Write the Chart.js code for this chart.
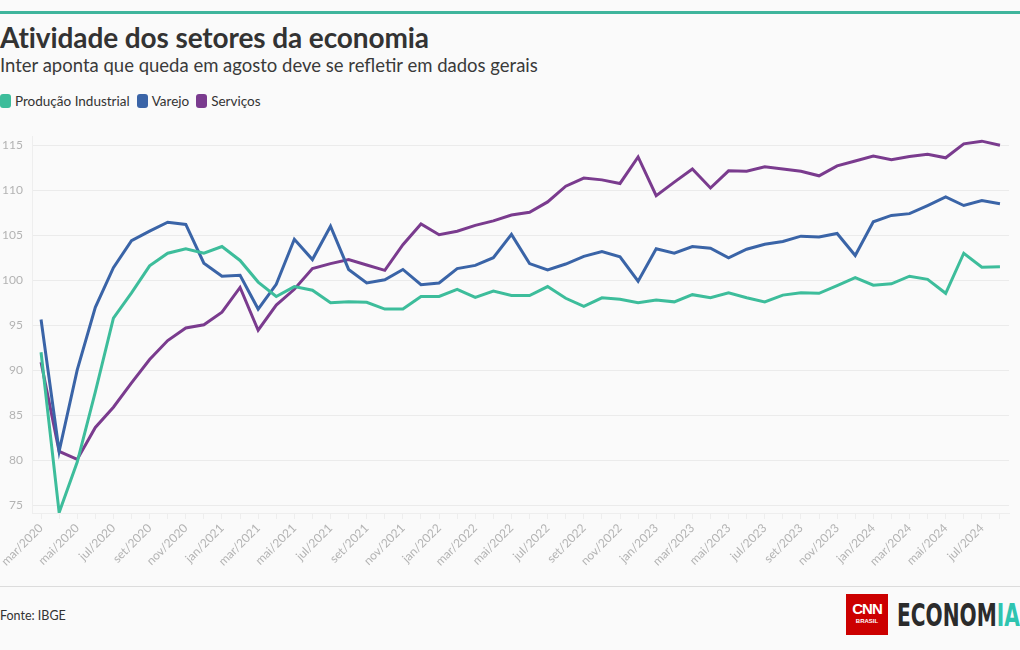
<!DOCTYPE html>
<html>
<head>
<meta charset="utf-8">
<script src="https://cdn.jsdelivr.net/npm/chart.js@4"></script>
<style>
  html, body { margin: 0; padding: 0; background: #fafafa; }
  body { width: 1020px; height: 650px; position: relative; overflow: hidden; font-family: Lato, "Open Sans", sans-serif; color: #333; }
  .topbar { position: absolute; left: 0; top: 11px; width: 1020px; height: 3px; background: #3fb59c; }
  h1 { position: absolute; left: 0; top: 20px; margin: 0; font-size: 28px; font-weight: 700; color: #333; letter-spacing: -0.1px; }
  .sub { position: absolute; left: 0; top: 54px; font-size: 18.5px; color: #3a3a3a; }
  .legend { position: absolute; left: 0; top: 93px; font-size: 13.5px; color: #333; display: flex; }
  .legend span { display: inline-flex; align-items: center; margin-right: 7px; }
  .legend i { display: inline-block; width: 11px; height: 14px; border-radius: 3px; margin-right: 4px; }
  .wrap { position: absolute; left: 0; top: 120px; width: 1020px; height: 460px; }
  .foot { position: absolute; left: 0; top: 586px; width: 1020px; height: 1px; background: #dcdcdc; }
  .fonte { position: absolute; left: 0; top: 608px; font-size: 12.5px; color: #333; }
  .cnn { position: absolute; left: 846px; top: 594px; width: 42px; height: 41px; background: #cc0000; color: #fff; text-align: center; font-family: "Liberation Sans", sans-serif; }
  .cnn b { display: block; font-size: 15px; margin-top: 7px; letter-spacing: -1px; line-height: 15px; }
  .cnn small { display: block; font-size: 6px; font-weight: 700; margin-top: 2px; }
  .eco { position: absolute; left: 897px; top: 597px; font-family: "DejaVu Sans Condensed", "Liberation Sans Narrow", sans-serif; font-weight: 700; font-size: 32px; line-height: 36px; color: #2b2b2b; white-space: nowrap; transform: scaleX(0.7); transform-origin: left top; }
  .eco em { font-style: normal; color: #2fc4b0; }
</style>
</head>
<body>
<div class="topbar"></div>
<h1>Atividade dos setores da economia</h1>
<div class="sub">Inter aponta que queda em agosto deve se refletir em dados gerais</div>
<div class="legend" id="legend"></div>
<div class="wrap"><canvas id="chart"></canvas></div>
<div class="foot"></div>
<div class="fonte">Fonte: IBGE</div>
<div class="cnn"><b>CNN</b><small>BRASIL</small></div>
<div class="eco">ECONOM<em>IA</em></div>
<script>
const months = ["jan", "fev", "mar", "abr", "mai", "jun", "jul", "ago", "set", "out", "nov", "dez"];
const labels = [];
for (let y = 2020; y <= 2024; y++) {
  for (let m = 0; m < 12; m++) {
    if (y === 2020 && m < 2) continue;
    if (y === 2024 && m > 7) continue;
    labels.push(`${months[m]}/${y}`);
  }
}
const yTicks = [75, 80, 85, 90, 95, 100, 105, 110, 115];

const industria = [92.0, 74.2, 79.8, 87.6, 95.8, 98.6, 101.6, 103.0, 103.5, 103.0, 103.75, 102.2,
  99.8, 98.2, 99.3, 98.9, 97.5, 97.6, 97.55, 96.8, 96.8, 98.2, 98.2, 99.0,
  98.1, 98.8, 98.3, 98.3, 99.3, 98.0, 97.1, 98.05, 97.9, 97.5, 97.8, 97.6,
  98.4, 98.05, 98.6, 98.05, 97.6, 98.35, 98.6, 98.55, 99.4, 100.3, 99.45, 99.6,
  100.45, 100.1, 98.55, 103.0, 101.45, 101.5];
const varejo = [95.65, 81.0, 90.05, 97.0, 101.4, 104.4, 105.45, 106.45, 106.2, 101.9, 100.45, 100.55,
  96.8, 99.55, 104.55, 102.3, 106.0, 101.2, 99.7, 100.05, 101.2, 99.5, 99.7, 101.3,
  101.65, 102.5, 105.1, 101.85, 101.15, 101.8, 102.65, 103.2, 102.6, 99.9, 103.5, 103.0,
  103.75, 103.55, 102.5, 103.45, 104.0, 104.3, 104.9, 104.8, 105.2, 102.75, 106.5, 107.2,
  107.4, 108.3, 109.25, 108.3, 108.85, 108.5];
const servicos = [90.9, 81.0, 80.1, 83.65, 85.9, 88.6, 91.2, 93.3, 94.7, 95.05, 96.45, 99.2,
  94.45, 97.25, 99.0, 101.3, 101.85, 102.3, 101.7, 101.1, 103.95, 106.25, 105.05, 105.45,
  106.1, 106.6, 107.25, 107.55, 108.7, 110.45, 111.35, 111.15, 110.75, 113.7, 109.4, 110.9,
  112.35, 110.25, 112.15, 112.1, 112.6, 112.35, 112.1, 111.6, 112.7, 113.25, 113.8, 113.4,
  113.75, 114.0, 113.6, 115.15, 115.45, 115.0];

const series = [
  { label: "Produção Industrial", data: industria, color: "#3dbd9b" },
  { label: "Varejo", data: varejo, color: "#3a64a7" },
  { label: "Serviços", data: servicos, color: "#7a3b8e" },
];

const legend = document.getElementById("legend");
for (const s of series) {
  const el = document.createElement("span");
  el.innerHTML = `<i style="background:${s.color}"></i>${s.label}`;
  legend.appendChild(el);
}

const tickColor = "#b3b3b3";
new Chart(document.getElementById("chart").getContext("2d"), {
  type: "line",
  data: {
    labels,
    datasets: series.map((s) => ({
      label: s.label, data: s.data, borderColor: s.color, backgroundColor: s.color,
      borderWidth: 3, pointRadius: 0, tension: 0, borderJoinStyle: "miter",
    })),
  },
  options: {
    responsive: true,
    maintainAspectRatio: false,
    animation: false,
    layout: { padding: { top: 12, right: 11, left: 0, bottom: 0 } },
    plugins: { legend: { display: false }, tooltip: { enabled: false } },
    scales: {
      x: {
        offset: true,
        grid: { display: true, drawOnChartArea: false, drawTicks: true, tickLength: 6, color: "#eeeeee" },
        border: { color: "#eeeeee" },
        ticks: {
          autoSkip: false, minRotation: 45, maxRotation: 45, color: tickColor, padding: 2,
          font: { family: "Lato, 'Open Sans', sans-serif", size: 12 },
          callback: (v, i) => (i % 2 === 0 ? labels[i] : ""),
        },
        afterFit: (scale) => { scale.height = 67; },
      },
      y: {
        min: 74.15, max: 116,
        grid: { color: "#ebebeb", drawTicks: false },
        border: { color: "#eeeeee" },
        afterBuildTicks: (scale) => { scale.ticks = yTicks.map((v) => ({ value: v })); },
        ticks: {
          color: tickColor, padding: 9,
          font: { family: "Lato, 'Open Sans', sans-serif", size: 12 },
        },
        afterFit: (scale) => { scale.width = 32; },
      },
    },
  },
});
</script>
</body>
</html>
